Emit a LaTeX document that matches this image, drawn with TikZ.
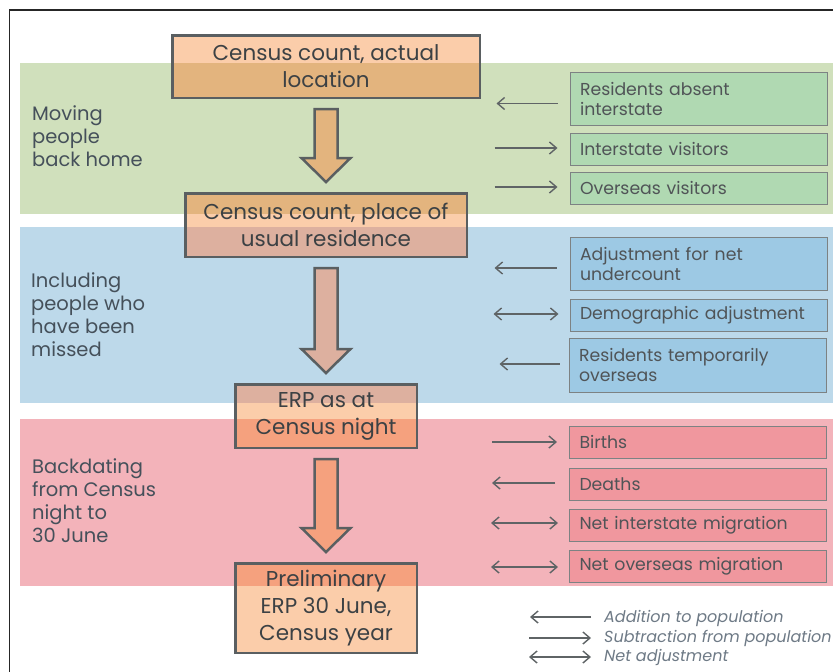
\documentclass[tikz,border=0pt]{standalone}
\usepackage{fontspec}
\setmainfont{Poppins}
\usetikzlibrary{arrows.meta,calc}
\definecolor{peach}{HTML}{FBCDAA}
\definecolor{ovgreen}{HTML}{E3B47E}
\definecolor{ovblue}{HTML}{DDB09F}
\definecolor{ovpink}{HTML}{F5A17E}
\definecolor{greenband}{HTML}{D0E0BC}
\definecolor{blueband}{HTML}{BDD9EA}
\definecolor{pinkband}{HTML}{F3B3BA}
\definecolor{gbox}{HTML}{B0D9B2}
\definecolor{bbox}{HTML}{9DC9E4}
\definecolor{pbox}{HTML}{F0979E}
\definecolor{bordergray}{HTML}{5A5F61}
\definecolor{sideborder}{HTML}{7D8283}
\definecolor{arrowgray}{HTML}{5F6466}
\definecolor{textdark}{HTML}{3C4144}
\definecolor{labeltext}{HTML}{45505A}
\definecolor{legendtext}{HTML}{6E7A86}
\newcommand{\blockarrow}[3]{%
  \draw[bigarrow,fill=#3] ($(#1.south)+(-11.5,10)$) -- ($(#1.south)+(11.5,10)$)
    -- ($(#2.north)+(11.5,-34)$) -- ($(#2.north)+(24.5,-34)$)
    -- ($(#2.north)+(0,-10)$) -- ($(#2.north)+(-24.5,-34)$)
    -- ($(#2.north)+(-11.5,-34)$) -- cycle;}
\begin{document}
\begin{tikzpicture}[x=1pt,y=-1pt,
  band/.style={fill=#1,draw=none,inner sep=0pt,outer sep=0pt,anchor=north west,minimum width=813pt},
  mainbox/.style={draw=bordergray,line width=2.5pt,fill=peach,align=center,inner sep=0pt,
    text=textdark,font=\fontsize{21.5}{27}\selectfont,
    path picture={
      \fill[ovgreen] (gband.north west) rectangle (gband.south east);
      \fill[ovblue] (bband.north west) rectangle (bband.south east);
      \fill[ovpink] (pband.north west) rectangle (pband.south east);}},
  sidebox/.style={draw=sideborder,line width=1pt,fill=#1,minimum width=257pt,text width=237pt,
    inner xsep=10pt,inner ysep=0pt,align=left,text=textdark!90,font=\fontsize{17.3}{20}\selectfont},
  bandlabel/.style={anchor=north west,align=left,inner sep=0pt,text=labeltext,
    font=\fontsize{19.5}{23}\selectfont},
  bigarrow/.style={draw=bordergray,line width=2.5pt,line join=miter},
  smallarrow/.style={draw=arrowgray,line width=1.4pt,arrows={-Straight Barb[length=7pt,width=12pt]}},
  dblarrow/.style={draw=arrowgray,line width=1.4pt,arrows={Straight Barb[length=7pt,width=12pt]-Straight Barb[length=7pt,width=12pt]}},
  legendtext/.style={anchor=west,inner sep=0pt,text=legendtext,font=\fontsize{16}{20}\selectfont\itshape}
]
\useasboundingbox (0,0) rectangle (833,672);
\fill[white] (0,0) rectangle (833,672);
% frame
\draw[black!85,line width=1.3pt] (9.5,672) -- (9.5,10) -- (833,10);
% bands
\node[band=greenband,minimum height=151pt] (gband) at (20,63) {};
\node[band=blueband,minimum height=176pt] (bband) at (20,227) {};
\node[band=pinkband,minimum height=167pt] (pband) at (20,419) {};
% band labels
\node[bandlabel] (l1) at (32,105) {Moving\\people\\back home};
\node[bandlabel] (l2) at (31,272) {Including\\people who\\have been\\missed};
\node[bandlabel] (l3) at (32,458) {Backdating\\from Census\\night to\\30 June};
% main boxes
\node[mainbox,minimum width=307.5pt,minimum height=62.5pt] (b1) at (326,66.5) {Census count, actual\\location};
\node[mainbox,minimum width=281.5pt,minimum height=63.5pt] (b2) at (326,225) {Census count, place of\\usual residence};
\node[mainbox,minimum width=181.5pt,minimum height=63.5pt] (b3) at (326,416) {ERP as at\\Census night};
\node[mainbox,minimum width=181.5pt,minimum height=89.5pt] (b4) at (326,608) {Preliminary\\ERP 30 June,\\Census year};
% block arrows
\blockarrow{b1}{b2}{ovgreen}
\blockarrow{b2}{b3}{ovblue}
\blockarrow{b3}{b4}{ovpink}
% side boxes green
\node[sidebox=gbox,minimum height=53pt] (sa1) at (698.5,98.5) {Residents absent\\interstate};
\node[sidebox=gbox,minimum height=32pt] (sa2) at (698.5,149) {Interstate visitors};
\node[sidebox=gbox,minimum height=32pt] (sa3) at (698.5,188) {Overseas visitors};
% side boxes blue
\node[sidebox=bbox,minimum height=53pt] (sb1) at (698.5,263.5) {Adjustment for net\\undercount};
\node[sidebox=bbox,minimum height=32pt] (sb2) at (698.5,315) {Demographic adjustment};
\node[sidebox=bbox,minimum height=54pt] (sb3) at (697.5,365) {Residents temporarily\\overseas};
% side boxes pink
\node[sidebox=pbox,minimum height=32pt] (sc1) at (698,442) {Births};
\node[sidebox=pbox,minimum height=32pt] (sc2) at (698,484) {Deaths};
\node[sidebox=pbox,minimum height=32pt] (sc3) at (698,525) {Net interstate migration};
\node[sidebox=pbox,minimum height=32pt] (sc4) at (698,566) {Net overseas migration};
% small arrows
\draw[smallarrow] ($(sa1.west)+(-12,5)$) -- ($(sa1.west)+(-73,5)$);
\draw[smallarrow] ($(sa2.west)+(-75,-1)$) -- ($(sa2.west)+(-12,-1)$);
\draw[smallarrow] ($(sa3.west)+(-75,-1)$) -- ($(sa3.west)+(-12,-1)$);
\draw[smallarrow] ($(sb1.west)+(-13,4.5)$) -- ($(sb1.west)+(-75,4.5)$);
\draw[dblarrow] ($(sb2.west)+(-76,-1)$) -- ($(sb2.west)+(-11,-1)$);
\draw[smallarrow] ($(sb3.west)+(-9,-1)$) -- ($(sb3.west)+(-69,-1)$);
\draw[smallarrow] ($(sc1.west)+(-77,0)$) -- ($(sc1.west)+(-12,0)$);
\draw[smallarrow] ($(sc2.west)+(-14,-1)$) -- ($(sc2.west)+(-77,-1)$);
\draw[dblarrow] ($(sc3.west)+(-78,-2)$) -- ($(sc3.west)+(-11,-2)$);
\draw[dblarrow] ($(sc4.west)+(-78,1)$) -- ($(sc4.west)+(-11,1)$);
% legend
\coordinate (la1) at (530,617); \coordinate (la2) at (591,617);
\coordinate (lb1) at (529,638); \coordinate (lb2) at (591,638);
\coordinate (lc1) at (529,657); \coordinate (lc2) at (591,657);
\draw[smallarrow] (la2) -- (la1);
\draw[smallarrow] (lb1) -- (lb2);
\draw[dblarrow] (lc1) -- (lc2);
\node[legendtext] (t1) at (604,618) {Addition to population};
\node[legendtext] (t2) at (604,638) {Subtraction from population};
\node[legendtext] (t3) at (604,657) {Net adjustment};
\end{tikzpicture}
\end{document}
